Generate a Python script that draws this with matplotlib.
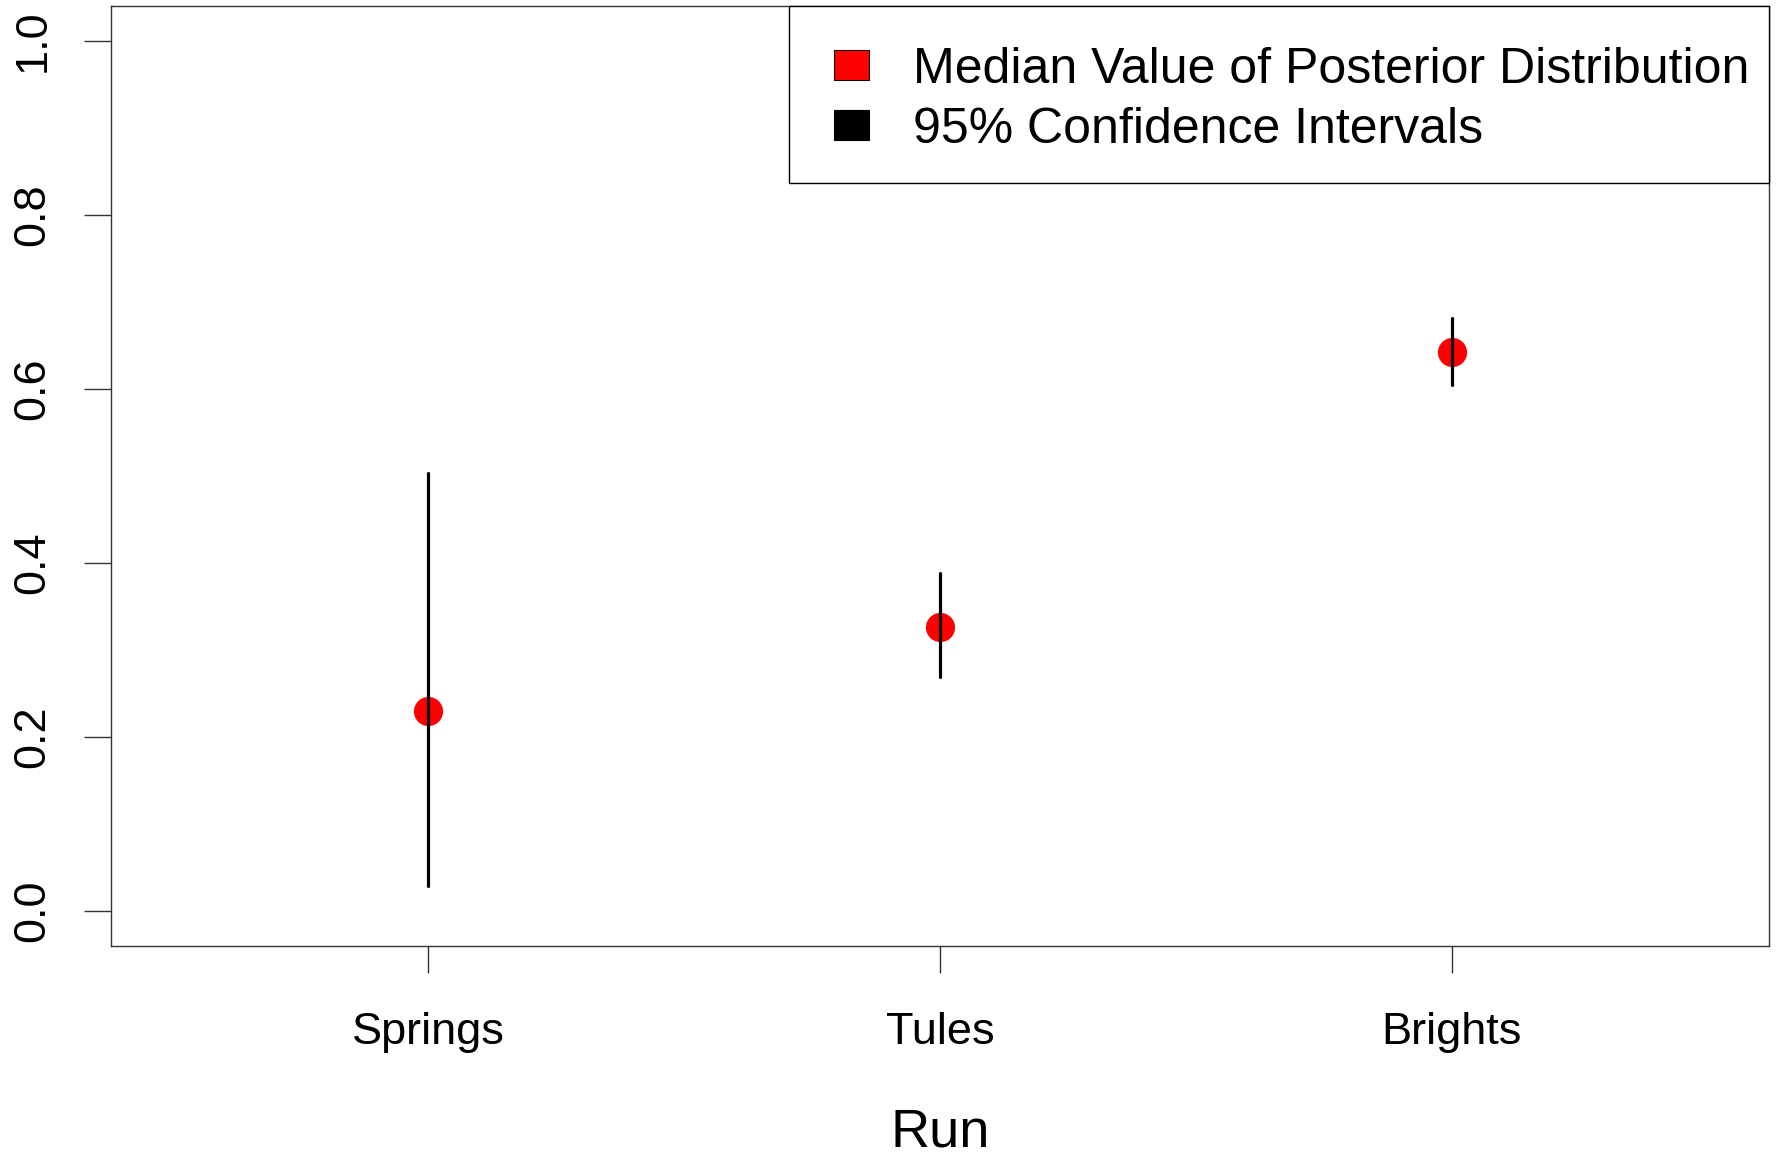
import matplotlib
matplotlib.use('Agg')
import matplotlib.pyplot as plt
from matplotlib.patches import Rectangle

plt.rcParams['font.family'] = ['Liberation Sans', 'DejaVu Sans']

# posterior medians and 95% intervals per run
runs = ['Springs', 'Tules', 'Brights']
medians = [0.230, 0.327, 0.643]
lower = [0.029, 0.269, 0.605]
upper = [0.504, 0.388, 0.682]
yticks = [0.0, 0.2, 0.4, 0.6, 0.8, 1.0]
legend_labels = ['Median Value of Posterior Distribution', '95% Confidence Intervals']
legend_colors = ['red', 'black']

x = list(range(1, len(runs) + 1))

fig = plt.figure(figsize=(17.79, 11.56), dpi=100)
ax = fig.add_axes([0.0624, 0.1817, 0.9944 - 0.0624, 0.9948 - 0.1817])

ax.plot(x, medians, 'o', color='red', markersize=21, markeredgewidth=0, zorder=2)
ax.vlines(x, lower, upper, color='black', linewidth=2.3, capstyle='round', zorder=3)

ax.set_xlim(0.38, 3.62)
ax.set_ylim(-0.04, 1.04)
ax.set_xticks(x)
ax.set_xticklabels(runs)
ax.set_yticks(yticks)
ax.set_yticklabels(['%.1f' % v for v in yticks], rotation=90, va='center')

for s in ax.spines.values():
    s.set_linewidth(1.0)
    s.set_color('#333333')
ax.tick_params(axis='both', length=19.5, width=1.0, color='#333333', labelsize=32.5)
ax.tick_params(axis='x', pad=28)
ax.tick_params(axis='y', pad=22)

ax.set_xlabel('Run', fontsize=39, labelpad=39)

# legend box drawn by hand (R style: square keys, plain frame)
ax.add_patch(Rectangle((0.4089, 0.8117), 0.5911, 0.1883, transform=ax.transAxes,
                       facecolor='white', edgecolor='black', linewidth=1.0,
                       clip_on=False, zorder=5))
key_y = [0.9213, 0.8574]
text_y = [0.9181, 0.8543]
for lab, col, ky, ty in zip(legend_labels, legend_colors, key_y, text_y):
    ax.add_patch(Rectangle((0.4361, ky), 0.0211, 0.0319, transform=ax.transAxes,
                           facecolor=col, edgecolor='black', linewidth=0.8,
                           clip_on=False, zorder=6))
    ax.text(0.4837, ty, lab, transform=ax.transAxes, fontsize=36,
            va='baseline', ha='left', zorder=6)

plt.savefig('out.png', dpi=100)
